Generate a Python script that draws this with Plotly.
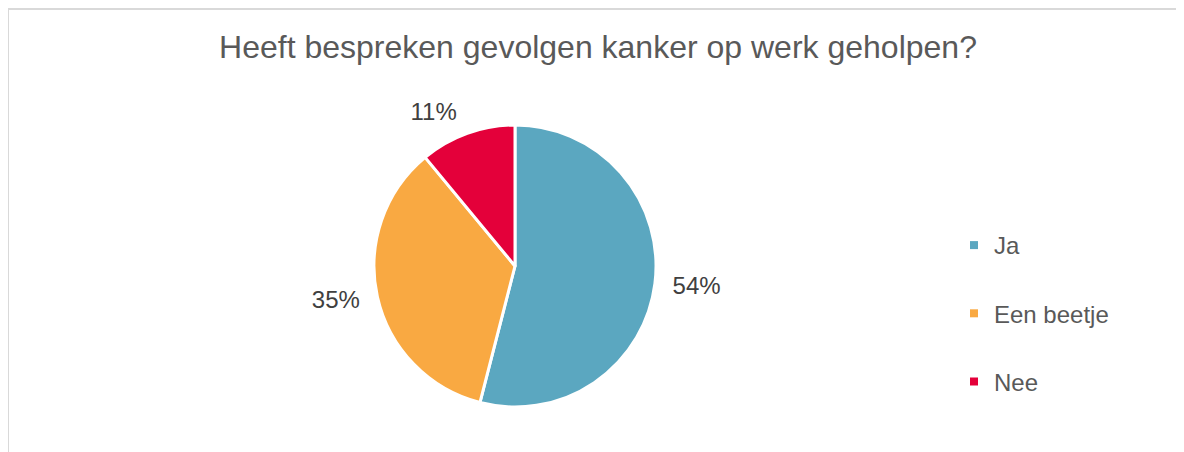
import plotly.graph_objects as go

categories = ["Ja", "Een beetje", "Nee"]
values = [54, 35, 11]
colors = ["#5BA7C0", "#F9A942", "#E4003A"]
title = "Heeft bespreken gevolgen kanker op werk geholpen?"

W, H = 1184, 452
OFF = 8  # page body margin
cx, cy, r = 515 - OFF, 266 - OFF, 141
rt = 152  # radius used to place outside percentage labels

def dom(rad):
    return dict(x=[(cx - rad) / W, (cx + rad) / W], y=[1 - (cy + rad) / H, 1 - (cy - rad) / H])

fig = go.Figure()
fig.add_trace(go.Pie(
    labels=categories, values=values, sort=False, direction="clockwise", rotation=0,
    marker=dict(colors=colors, line=dict(color="white", width=3)),
    textinfo="none", showlegend=False, hoverinfo="label+percent",
    domain=dom(r),
))
fig.add_trace(go.Pie(
    labels=categories, values=values, sort=False, direction="clockwise", rotation=0,
    marker=dict(colors=["rgba(0,0,0,0)"] * 3, line=dict(width=0)),
    texttemplate="%{percent:.0%}", textposition="outside",
    textfont=dict(family="Liberation Sans, Arial", size=24, color="#404040"),
    showlegend=False, hoverinfo="skip",
    domain=dom(rt),
))
for c, col in zip(categories, colors):
    fig.add_trace(go.Scatter(
        x=[None], y=[None], mode="markers", name=c, legendgroup=c,
        marker=dict(symbol="square", size=8, color=col),
    ))

fig.update_layout(
    width=W, height=H, margin=dict(l=0, r=0, t=0, b=0),
    paper_bgcolor="white", plot_bgcolor="white",
    title=dict(text=title, x=(598 - OFF) / W, xanchor="center", y=1 - (47 - OFF) / H, yanchor="middle",
               font=dict(family="Liberation Sans, Arial", size=32, color="#595959")),
    xaxis=dict(visible=False), yaxis=dict(visible=False),
    legend=dict(x=(995 - OFF - 41) / W, xanchor="left", y=1 - (244 - OFF - 21) / H, yanchor="top",
                font=dict(family="Liberation Sans, Arial", size=24, color="#595959"),
                tracegroupgap=34, itemwidth=30, bgcolor="rgba(0,0,0,0)"),
    shapes=[
        dict(type="line", xref="paper", yref="paper", x0=0, x1=1.2, y0=1 - 1 / H, y1=1 - 1 / H,
             line=dict(color="#D9D9D9", width=2)),
        dict(type="line", xref="paper", yref="paper", x0=0, x1=0, y0=1 - 1 / H, y1=-0.2,
             line=dict(color="#D9D9D9", width=2)),
    ],
)
fig.write_html("out.html")
